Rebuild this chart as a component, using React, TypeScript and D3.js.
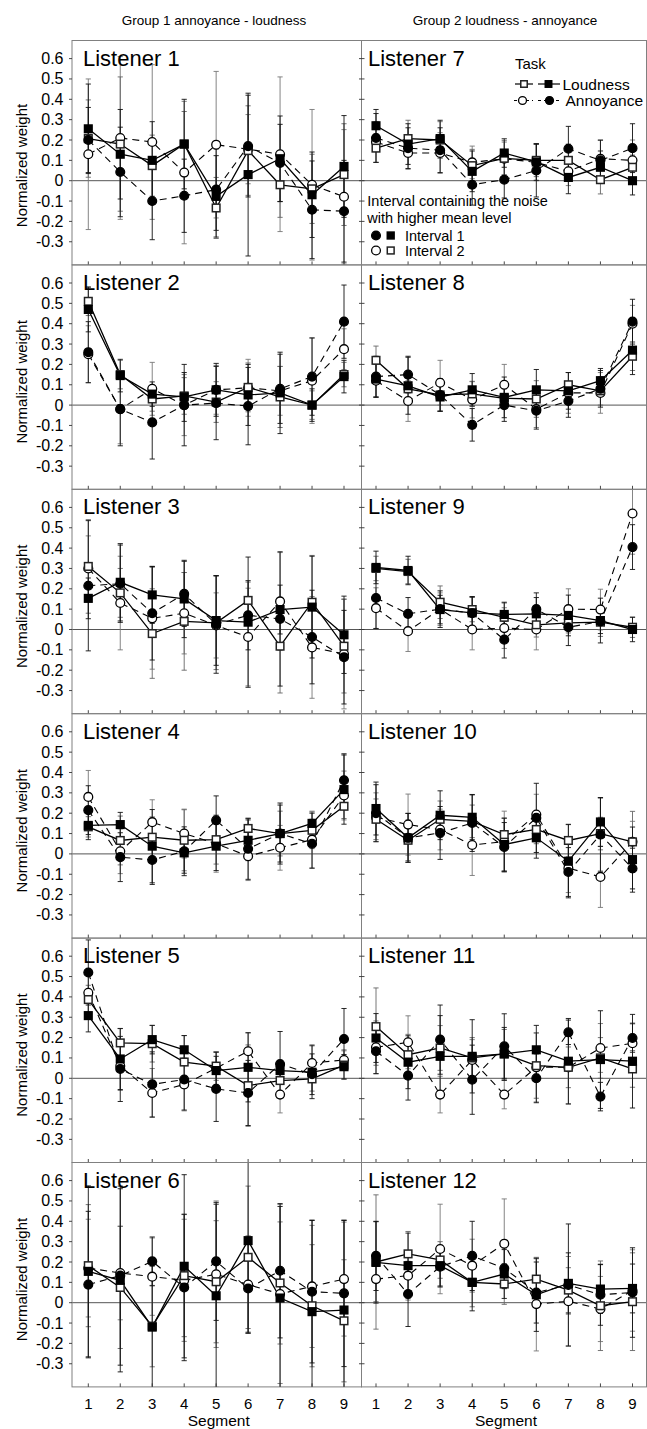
import React from 'react';
import * as d3 from 'd3';

const segments = [1, 2, 3, 4, 5, 6, 7, 8, 9];
const yTicks = [-0.3, -0.2, -0.1, 0, 0.1, 0.2, 0.3, 0.4, 0.5, 0.6];
const listeners = ['Listener 1', 'Listener 2', 'Listener 3', 'Listener 4', 'Listener 5', 'Listener 6',
  'Listener 7', 'Listener 8', 'Listener 9', 'Listener 10', 'Listener 11', 'Listener 12'];
const groupTitles = ['Group 1 annoyance - loudness', 'Group 2 loudness - annoyance'];

// Loudness task, Interval 1 (filled squares) [listener][segment]
const loudI1 = [
  [0.255, 0.13, 0.10, 0.18, -0.077, 0.03, 0.108, -0.069, 0.07],
  [0.47, 0.145, 0.054, 0.04, 0.075, 0.05, 0.06, 0.0, 0.14],
  [0.153, 0.232, 0.17, 0.15, 0.044, 0.036, 0.098, 0.11, -0.026],
  [0.14, 0.144, 0.038, 0.005, 0.038, 0.067, 0.1, 0.15, 0.316],
  [0.308, 0.095, 0.19, 0.14, 0.038, 0.054, 0.038, 0.03, 0.057],
  [0.154, 0.11, -0.12, 0.179, 0.034, 0.305, 0.023, -0.044, -0.036],
  [0.27, 0.18, 0.207, 0.046, 0.136, 0.092, 0.016, 0.066, 0.0],
  [0.128, 0.095, 0.04, 0.075, 0.038, 0.075, 0.07, 0.12, 0.27],
  [0.305, 0.29, 0.098, 0.082, 0.074, 0.077, 0.069, 0.044, 0.0],
  [0.223, 0.079, 0.19, 0.18, 0.046, 0.079, -0.036, 0.157, -0.028],
  [0.198, 0.079, 0.108, 0.108, 0.12, 0.14, 0.084, 0.092, 0.084],
  [0.198, 0.182, 0.182, 0.1, 0.141, 0.039, 0.095, 0.067, 0.07],
];
// Loudness task, Interval 2 (open squares)
const loudI2 = [
  [0.207, 0.18, 0.074, 0.18, -0.134, 0.148, -0.02, -0.04, 0.03],
  [0.51, 0.15, 0.03, 0.045, 0.015, 0.087, 0.04, 0.0, 0.15],
  [0.31, 0.18, -0.02, 0.04, 0.033, 0.143, -0.082, 0.134, -0.082],
  [0.133, 0.066, 0.082, 0.067, 0.07, 0.125, 0.1, 0.116, 0.234],
  [0.387, 0.174, 0.17, 0.08, 0.06, -0.036, -0.011, -0.003, 0.065],
  [0.182, 0.075, -0.115, 0.133, 0.103, 0.223, 0.097, -0.015, -0.089],
  [0.16, 0.207, 0.2, 0.074, 0.11, 0.1, 0.1, 0.005, 0.066],
  [0.22, 0.08, 0.05, 0.055, 0.033, 0.03, 0.1, 0.07, 0.24],
  [0.3, 0.285, 0.134, 0.098, 0.06, 0.023, 0.033, 0.036, 0.011],
  [0.17, 0.067, 0.17, 0.16, 0.095, 0.12, 0.066, 0.1, 0.059],
  [0.254, 0.116, 0.149, 0.1, 0.12, 0.062, 0.054, 0.1, 0.046],
  [0.2, 0.24, 0.21, 0.1, 0.092, 0.116, 0.062, -0.015, 0.005],
];
// Annoyance task, Interval 1 (filled circles)
const annoyI1 = [
  [0.2, 0.043, -0.1, -0.074, -0.044, 0.17, 0.087, -0.143, -0.15],
  [0.26, -0.02, -0.085, 0.0, 0.01, -0.005, 0.08, 0.14, 0.41],
  [0.215, 0.225, 0.08, 0.175, 0.025, 0.07, 0.052, -0.037, -0.136],
  [0.215, -0.016, -0.03, 0.013, 0.165, 0.025, 0.1, 0.05, 0.362],
  [0.52, 0.046, -0.03, -0.006, -0.052, -0.072, 0.07, 0.02, 0.193],
  [0.089, 0.133, 0.203, 0.075, 0.203, 0.07, 0.157, 0.054, 0.046],
  [0.21, 0.16, 0.15, -0.02, 0.005, 0.05, 0.157, 0.1, 0.16],
  [0.14, 0.15, 0.05, -0.097, 0.0, -0.028, 0.02, 0.08, 0.41],
  [0.155, 0.077, 0.1, 0.08, -0.05, 0.1, 0.011, 0.04, 0.405],
  [0.2, 0.079, 0.103, 0.152, 0.034, 0.177, -0.089, 0.095, -0.072],
  [0.133, 0.013, 0.19, -0.007, 0.157, 0.0, 0.226, -0.09, 0.198],
  [0.23, 0.043, 0.177, 0.23, 0.169, 0.05, 0.087, 0.039, 0.05],
];
// Annoyance task, Interval 2 (open circles)
const annoyI2 = [
  [0.13, 0.21, 0.19, 0.04, 0.177, 0.155, 0.13, -0.02, -0.079],
  [0.25, -0.02, 0.08, 0.0, 0.075, 0.085, 0.07, 0.12, 0.275],
  [0.3, 0.13, 0.055, 0.08, 0.02, -0.037, 0.138, -0.088, -0.12],
  [0.28, 0.013, 0.156, 0.1, 0.05, -0.011, 0.03, 0.07, 0.287],
  [0.42, 0.06, -0.072, -0.03, 0.05, 0.133, -0.08, 0.075, 0.09],
  [0.17, 0.146, 0.128, 0.11, 0.14, 0.089, 0.043, 0.08, 0.116],
  [0.19, 0.136, 0.136, 0.09, 0.108, 0.09, 0.046, 0.108, 0.1],
  [0.12, 0.02, 0.11, 0.027, 0.1, -0.02, 0.06, 0.06, 0.4],
  [0.105, -0.008, 0.1, 0.0, 0.007, 0.0, 0.1, 0.098, 0.57],
  [0.18, 0.144, 0.12, 0.044, 0.06, 0.193, -0.07, -0.113, 0.06],
  [0.152, 0.177, -0.08, 0.09, -0.08, 0.054, 0.054, 0.149, 0.172],
  [0.116, 0.133, 0.264, 0.182, 0.29, -0.007, 0.007, -0.031, 0.06],
];

// Error bar half-widths
const loudI1Err = [
  [0.22, 0.22, 0.19, 0.22, 0.2, 0.4, 0.21, 0.21, 0.25],
  [0.11, 0.08, 0.06, 0.12, 0.13, 0.15, 0.2, 0.08, 0.08],
  [0.1, 0.19, 0.14, 0.19, 0.22, 0.32, 0.12, 0.25, 0.19],
  [0.07, 0.06, 0.18, 0.1, 0.12, 0.1, 0.14, 0.05, 0.17],
  [0.08, 0.15, 0.07, 0.07, 0.09, 0.17, 0.05, 0.13, 0.06],
  [0.42, 0.45, 0.3, 0.45, 0.45, 0.45, 0.45, 0.45, 0.44],
  [0.08, 0.1, 0.09, 0.1, 0.07, 0.09, 0.08, 0.08, 0.07],
  [0.09, 0.14, 0.07, 0.08, 0.1, 0.1, 0.09, 0.06, 0.12],
  [0.08, 0.07, 0.07, 0.08, 0.06, 0.08, 0.1, 0.11, 0.06],
  [0.13, 0.12, 0.12, 0.11, 0.13, 0.1, 0.18, 0.12, 0.16],
  [0.12, 0.13, 0.2, 0.18, 0.13, 0.12, 0.21, 0.24, 0.23],
  [0.2, 0.16, 0.1, 0.14, 0.12, 0.18, 0.15, 0.12, 0.12],
];
const loudI2Err = [
  [0.19, 0.33, 0.15, 0.16, 0.15, 0.22, 0.16, 0.17, 0.25],
  [0.07, 0.07, 0.06, 0.09, 0.1, 0.12, 0.15, 0.07, 0.06],
  [0.23, 0.12, 0.22, 0.24, 0.23, 0.09, 0.23, 0.23, 0.23],
  [0.05, 0.12, 0.1, 0.15, 0.12, 0.05, 0.11, 0.09, 0.06],
  [0.07, 0.07, 0.09, 0.13, 0.07, 0.2, 0.07, 0.06, 0.07],
  [0.3, 0.3, 0.2, 0.3, 0.3, 0.35, 0.3, 0.3, 0.3],
  [0.07, 0.09, 0.09, 0.08, 0.08, 0.08, 0.08, 0.07, 0.06],
  [0.07, 0.08, 0.08, 0.06, 0.05, 0.09, 0.06, 0.07, 0.07],
  [0.06, 0.06, 0.08, 0.06, 0.07, 0.06, 0.05, 0.07, 0.05],
  [0.1, 0.1, 0.09, 0.08, 0.08, 0.07, 0.08, 0.08, 0.15],
  [0.19, 0.1, 0.11, 0.1, 0.12, 0.16, 0.1, 0.1, 0.09],
  [0.33, 0.11, 0.09, 0.12, 0.1, 0.1, 0.11, 0.22, 0.24],
];
const annoyI1Err = [
  [0.16, 0.22, 0.19, 0.18, 0.2, 0.25, 0.19, 0.24, 0.25],
  [0.15, 0.18, 0.18, 0.2, 0.18, 0.19, 0.17, 0.19, 0.18],
  [0.32, 0.19, 0.23, 0.16, 0.24, 0.17, 0.33, 0.23, 0.23],
  [0.12, 0.12, 0.12, 0.12, 0.12, 0.15, 0.15, 0.12, 0.13],
  [0.16, 0.16, 0.16, 0.15, 0.16, 0.16, 0.16, 0.1, 0.15],
  [0.36, 0.44, 0.12, 0.36, 0.29, 0.22, 0.33, 0.35, 0.36],
  [0.12, 0.1, 0.11, 0.1, 0.09, 0.13, 0.11, 0.1, 0.12],
  [0.1, 0.09, 0.08, 0.08, 0.08, 0.09, 0.08, 0.09, 0.11],
  [0.15, 0.08, 0.09, 0.08, 0.09, 0.08, 0.09, 0.06, 0.11],
  [0.14, 0.12, 0.13, 0.14, 0.12, 0.17, 0.12, 0.18, 0.1],
  [0.11, 0.12, 0.17, 0.17, 0.16, 0.12, 0.06, 0.07, 0.07],
  [0.17, 0.16, 0.1, 0.17, 0.1, 0.15, 0.3, 0.15, 0.22],
];
const annoyI2Err = [
  [0.37, 0.4, 0.38, 0.35, 0.36, 0.17, 0.38, 0.37, 0.33],
  [0.14, 0.17, 0.13, 0.15, 0.12, 0.14, 0.12, 0.21, 0.1],
  [0.16, 0.23, 0.25, 0.2, 0.16, 0.24, 0.24, 0.25, 0.27],
  [0.13, 0.11, 0.11, 0.12, 0.14, 0.12, 0.11, 0.14, 0.12],
  [0.1, 0.12, 0.12, 0.13, 0.08, 0.09, 0.09, 0.09, 0.05],
  [0.24, 0.23, 0.19, 0.3, 0.36, 0.24, 0.44, 0.3, 0.28],
  [0.1, 0.08, 0.1, 0.08, 0.09, 0.09, 0.07, 0.09, 0.1],
  [0.08, 0.1, 0.11, 0.09, 0.1, 0.09, 0.1, 0.1, 0.09],
  [0.1, 0.1, 0.08, 0.1, 0.1, 0.1, 0.1, 0.1, 0.2],
  [0.12, 0.15, 0.1, 0.15, 0.15, 0.1, 0.12, 0.15, 0.1],
  [0.13, 0.13, 0.09, 0.1, 0.07, 0.17, 0.18, 0.12, 0.1],
  [0.11, 0.12, 0.22, 0.13, 0.22, 0.23, 0.22, 0.16, 0.2],
];

const FONT = '"Liberation Sans", Arial, Helvetica, sans-serif';
const W = 647;
const H = 1429;
const colX: [number, number][] = [[72, 361.5], [361.5, 646.5]];
const colRange: [number, number][] = [[88.3, 344], [376, 632.5]];
const top0 = 40.5;
const panelH = 224.4;
const zeroOff = 140.2;
const unit = 203.5; // px per 1.0 weight

type SeriesDef = {
  vals: number[][];
  errs: number[][];
  shape: 'circle' | 'square';
  filled: boolean;
  dashed: boolean;
  errColor: string;
};

const seriesDefs: SeriesDef[] = [
  { vals: annoyI2, errs: annoyI2Err, shape: 'circle', filled: false, dashed: true, errColor: '#777' },
  { vals: loudI2, errs: loudI2Err, shape: 'square', filled: false, dashed: false, errColor: '#666' },
  { vals: annoyI1, errs: annoyI1Err, shape: 'circle', filled: true, dashed: true, errColor: '#111' },
  { vals: loudI1, errs: loudI1Err, shape: 'square', filled: true, dashed: false, errColor: '#111' },
];

function Marker({ cx, cy, shape, filled, size = 1 }: { cx: number; cy: number; shape: string; filled: boolean; size?: number }) {
  if (shape === 'circle') {
    return <circle cx={cx} cy={cy} r={4.4 * size} fill={filled ? '#000' : '#fff'} stroke="#000" strokeWidth={1.3} />;
  }
  const s = 7.6 * size;
  return <rect x={cx - s / 2} y={cy - s / 2} width={s} height={s} fill={filled ? '#000' : '#fff'} stroke={filled ? '#000' : '#222'} strokeWidth={1.5} />;
}

export default function App() {
  const fmt = (v: number) => (Math.abs(v) < 1e-9 ? '0' : v.toFixed(1));

  const panels = listeners.map((name, k) => {
    const col = k < 6 ? 0 : 1;
    const row = k % 6;
    const [x0, x1] = colX[col];
    const top = top0 + row * panelH;
    const bottom = top + panelH;
    const x = d3.scaleLinear().domain([1, 9]).range(colRange[col]);
    const zero = top + zeroOff;
    const y = d3.scaleLinear().domain([0, 1]).range([zero, zero - unit]);
    const line = d3.line<number>().x((_, i) => x(segments[i])).y((v) => y(v));
    const clipId = `clip${k}`;

    return (
      <g key={name}>
        <defs>
          <clipPath id={clipId}>
            <rect x={x0} y={top} width={x1 - x0} height={panelH} />
          </clipPath>
        </defs>
        {/* zero line */}
        <line x1={x0} x2={x1} y1={y(0)} y2={y(0)} stroke="#555" strokeWidth={1} />
        <g clipPath={`url(#${clipId})`}>
          {/* error bars */}
          {seriesDefs.map((s, si) => (
            <g key={`e${si}`} stroke={s.errColor} strokeWidth={0.9}>
              {segments.map((seg, i) => {
                const v = s.vals[k][i];
                const e = s.errs[k][i];
                const cx = x(seg);
                const yt = y(v + e);
                const yb = y(v - e);
                return (
                  <g key={i}>
                    <line x1={cx} x2={cx} y1={yt} y2={yb} />
                    <line x1={cx - 2.6} x2={cx + 2.6} y1={yt} y2={yt} />
                    <line x1={cx - 2.6} x2={cx + 2.6} y1={yb} y2={yb} />
                  </g>
                );
              })}
            </g>
          ))}
          {/* connecting lines */}
          {seriesDefs.map((s, si) => (
            <path key={`l${si}`} d={line(s.vals[k]) || ''} fill="none" stroke="#000"
              strokeWidth={s.dashed ? 1.1 : 1.3} strokeDasharray={s.dashed ? '7,5' : undefined} />
          ))}
          {/* markers */}
          {seriesDefs.map((s, si) => (
            <g key={`m${si}`}>
              {segments.map((seg, i) => (
                <Marker key={i} cx={x(seg)} cy={y(s.vals[k][i])} shape={s.shape} filled={s.filled} />
              ))}
            </g>
          ))}
        </g>
        {/* panel border */}
        <rect x={x0} y={top} width={x1 - x0} height={panelH} fill="none" stroke="#808080" strokeWidth={1} />
        {/* x ticks (inward at bottom) */}
        {segments.map((seg) => (
          <line key={`xt${seg}`} x1={x(seg)} x2={x(seg)} y1={bottom} y2={bottom - 3.5} stroke="#333" strokeWidth={0.9} />
        ))}
        {/* y ticks */}
        {yTicks.map((t) => (
          col === 0 ? (
            <g key={`yt${t}`}>
              <line x1={x0 - 3} x2={x0} y1={y(t)} y2={y(t)} stroke="#333" strokeWidth={0.9} />
              <text x={63.5} y={y(t) + 5.5} textAnchor="end" fontSize={16} fontFamily={FONT} fill="#000">{fmt(t)}</text>
            </g>
          ) : (
            <line key={`yt${t}`} x1={x0 - 2.5} x2={x0 + 3} y1={y(t)} y2={y(t)} stroke="#333" strokeWidth={0.9} />
          )
        ))}
        {/* title */}
        <text x={col === 0 ? x0 + 11 : x0 + 6.5} y={top + 25} fontSize={22} fontFamily={FONT} fill="#000">{name}</text>
        {/* y label */}
        {col === 0 && (
          <text transform={`translate(26.5,${top + (row === 0 ? 125 : 117)}) rotate(-90)`} textAnchor="middle"
            fontSize={15} fontFamily={FONT} fill="#000">Normalized weight</text>
        )}
        {/* x tick labels + axis label on bottom row */}
        {row === 5 && segments.map((seg) => (
          <text key={`xl${seg}`} x={x(seg)} y={bottom + 22} textAnchor="middle" fontSize={15} fontFamily={FONT} fill="#000">{seg}</text>
        ))}
        {row === 5 && (
          <text x={(x0 + x1) / 2 + 2} y={bottom + 39.5} textAnchor="middle" fontSize={15.5} fontFamily={FONT} fill="#000">Segment</text>
        )}
      </g>
    );
  });

  return (
    <svg width={W} height={H} style={{ position: 'absolute', left: 0, top: 0, background: '#fff' }}>
      <rect x={0} y={0} width={W} height={H} fill="#fff" />
      {groupTitles.map((t, i) => (
        <text key={t} x={i === 0 ? 214 : 505} y={25} textAnchor="middle" fontSize={13.5} fontFamily={FONT} fill="#000">{t}</text>
      ))}
      {panels}
      {/* Legend inside Listener 7 panel */}
      <g fontFamily={FONT} fill="#000">
        <text x={515} y={69} fontSize={15}>Task</text>
        <line x1={515} x2={533} y1={84} y2={84} stroke="#000" strokeWidth={1.2} />
        <line x1={538} x2={560} y1={84} y2={84} stroke="#000" strokeWidth={1.2} />
        <Marker cx={524} cy={84} shape="square" filled={false} size={0.85} />
        <Marker cx={548.5} cy={84} shape="square" filled={true} size={0.85} />
        <text x={562.5} y={89.5} fontSize={15.5}>Loudness</text>
        <line x1={514} x2={533} y1={100.5} y2={100.5} stroke="#000" strokeWidth={1.1} strokeDasharray="3,3" />
        <line x1={538} x2={560} y1={100.5} y2={100.5} stroke="#000" strokeWidth={1.1} strokeDasharray="3,3" />
        <Marker cx={522.5} cy={100.5} shape="circle" filled={false} size={0.9} />
        <Marker cx={549.5} cy={100.5} shape="circle" filled={true} size={0.9} />
        <text x={565.5} y={106} fontSize={15.5}>Annoyance</text>

        <text x={367.3} y={206} fontSize={14.5}>Interval containing the noise</text>
        <text x={367.3} y={222.5} fontSize={14.5}>with higher mean level</text>
        <Marker cx={376} cy={235.5} shape="circle" filled={true} />
        <Marker cx={390.7} cy={235.5} shape="square" filled={true} size={0.9} />
        <text x={405} y={240.5} fontSize={14.5}>Interval 1</text>
        <Marker cx={376} cy={250.5} shape="circle" filled={false} />
        <Marker cx={390.7} cy={250.5} shape="square" filled={false} size={0.9} />
        <text x={405} y={255.5} fontSize={14.5}>Interval 2</text>
      </g>
    </svg>
  );
}
